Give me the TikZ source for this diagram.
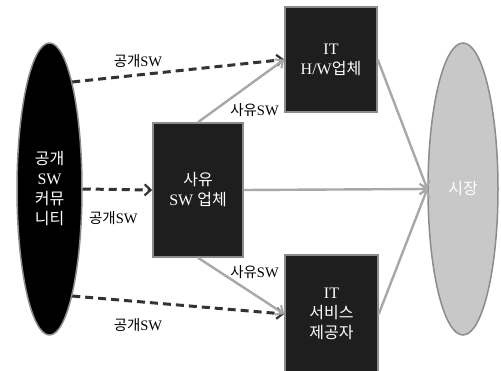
\documentclass[tikz,border=0pt]{standalone}
\usepackage{fontspec}
\setmainfont{Liberation Serif}
\newfontfamily\krfont{Noto Sans CJK KR}
\usepackage{tikz}
\usetikzlibrary{positioning,arrows.meta,shapes.geometric}
\definecolor{SWDark}{HTML}{1E1E1E}
\definecolor{SWEdge}{HTML}{8C8C8C}
\definecolor{SWMarket}{HTML}{C8C8C8}
\definecolor{SWGray}{HTML}{A8A8A8}
\definecolor{SWDash}{HTML}{333333}

\begin{document}
\begin{tikzpicture}[
  x=1pt, y=-1pt,
  orgbox/.style={draw=SWEdge, fill=SWDark, line width=1.5pt, text=white, align=center, inner sep=2pt, font=\fontsize{16}{20}\selectfont},
  commoval/.style={ellipse, draw=SWEdge, fill=black, line width=1.5pt, text=white, align=center, inner sep=0pt, font=\fontsize{16}{20}\selectfont},
  marketoval/.style={ellipse, draw=SWEdge, fill=SWMarket, line width=1.5pt, text=white, align=center, inner sep=0pt, font=\fontsize{16}{20}\selectfont},
  swarrow/.style={-{Straight Barb[length=6pt,width=11pt,line width=2.2pt]}, line width=3pt, SWDash, dash pattern=on 8pt off 5pt},
  prvarrow/.style={-{Straight Barb[length=6pt,width=11pt,line width=2pt]}, line width=2.4pt, SWGray},
  flowlabel/.style={inner sep=1pt, text=black, font=\fontsize{14.5}{16}\selectfont}
]
\useasboundingbox (0,0) rectangle (501,371);
\node[commoval, minimum width=65pt, minimum height=292pt] (comm) at (49.5,189) {{\krfont 공개}\\SW\\{\krfont 커뮤}\\{\krfont 니티}};
\node[marketoval, minimum width=70pt, minimum height=292pt] (market) at (463,189) {{\krfont 시장}};
\node[orgbox, minimum width=90pt, minimum height=134pt] (sw) at (198,190) {{\krfont 사유}\\SW {\krfont 업체}};
\node[orgbox, minimum width=92pt, minimum height=105pt] (hw) at (331,59.5) {IT\\H/W{\krfont 업체}};
\node[orgbox, minimum width=93pt, minimum height=118pt] (svc) at (331.5,314) {IT\\{\krfont 서비스}\\{\krfont 제공자}};
% open source flows
\draw[swarrow] (comm.78) -- node[flowlabel, pos=.31, above=5pt] {{\krfont 공개}SW} (hw.west);
\draw[swarrow] (comm.east) -- node[flowlabel, pos=.44, below=20pt] {{\krfont 공개}SW} (sw.west);
\draw[swarrow] (comm.-78) -- node[flowlabel, pos=.31, below=14pt] {{\krfont 공개}SW} (svc.west);
% proprietary flows
\draw[prvarrow] (sw.north) -- node[flowlabel, pos=.655, below=20pt] {{\krfont 사유}SW} (hw.west);
\draw[prvarrow] (sw.south) -- node[flowlabel, pos=.655, above=14pt] {{\krfont 사유}SW} (svc.west);
\draw[prvarrow] (sw.east) -- (market.west);
\draw[prvarrow] (hw.east) -- (market.west);
\draw[prvarrow] (svc.east) -- (market.west);
\end{tikzpicture}
\end{document}
